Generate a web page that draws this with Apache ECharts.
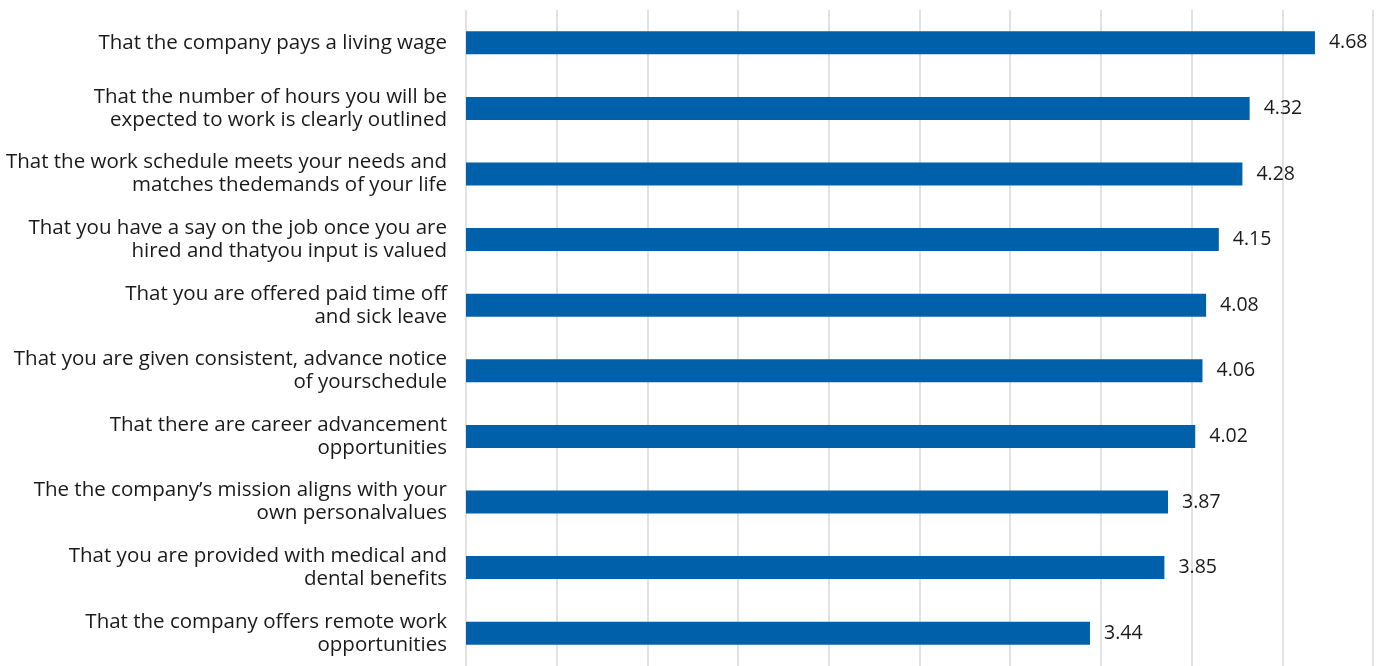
<!DOCTYPE html>
<html>
<head>
<meta charset="utf-8">
<script src="https://cdn.jsdelivr.net/npm/echarts@6/dist/echarts.min.js"></script>
<style>
  html, body { margin: 0; padding: 0; background: #ffffff; }
  #chart { width: 1379px; height: 666px; }
</style>
</head>
<body>
<div id="chart"></div>
<script>
// Importance ratings of job attributes (mean score)
const categories = [
  "That the company pays a living wage",
  "That the number of hours you will be\nexpected to work is clearly outlined",
  "That the work schedule meets your needs and\nmatches thedemands of your life",
  "That you have a say on the job once you are\nhired and thatyou input is valued",
  "That you are offered paid time off\nand sick leave",
  "That you are given consistent, advance notice\nof yourschedule",
  "That there are career advancement\nopportunities",
  "The the company\u2019s mission aligns with your\nown personalvalues",
  "That you are provided with medical and\ndental benefits",
  "That the company offers remote work\nopportunities"
];
const scores = [4.68, 4.32, 4.28, 4.15, 4.08, 4.06, 4.02, 3.87, 3.85, 3.44];

const chart = echarts.init(document.getElementById('chart'), null, { renderer: 'canvas' });
chart.setOption({
  animation: false,
  grid: { left: 466, right: 6, top: 10, bottom: -4, containLabel: false },
  xAxis: {
    type: 'value',
    min: 0,
    max: 5,
    interval: 0.5,
    axisLabel: { show: false },
    axisLine: { show: false },
    axisTick: { show: false },
    splitLine: { show: true, lineStyle: { color: '#e2e2e2', width: 2 } }
  },
  yAxis: {
    type: 'category',
    data: categories,
    inverse: true,
    axisLine: { show: false },
    axisTick: { show: false },
    axisLabel: {
      margin: 19,
      align: 'right',
      fontFamily: 'Open Sans',
      fontSize: 20.5,
      lineHeight: 23,
      color: '#1a1a1a'
    }
  },
  series: [{
    type: 'bar',
    data: scores,
    barWidth: 23,
    itemStyle: { color: '#0060aa' },
    label: {
      show: true,
      position: 'right',
      distance: 14,
      fontFamily: 'Open Sans',
      fontSize: 19.5,
      color: '#1a1a1a',
      formatter: p => p.value.toFixed(2)
    }
  }]
});
</script>
</body>
</html>
